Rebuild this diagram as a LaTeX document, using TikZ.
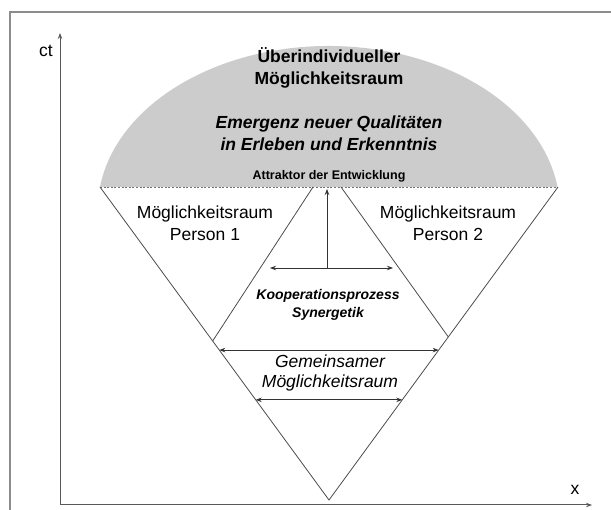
\documentclass[tikz,border=0pt]{standalone}
\usepackage{fontspec}
\setmainfont{Liberation Sans}
\usetikzlibrary{arrows.meta, calc}
\tikzstyle{label} = [inner sep=0pt, align=center, font=\fontsize{17.5}{21.5}\selectfont]
\tikzstyle{dome} = [label, font=\fontsize{17.5}{22}\selectfont\bfseries]
\tikzstyle{domeit} = [label, font=\fontsize{17.5}{22}\selectfont\bfseries\itshape]
\tikzstyle{small} = [label, font=\fontsize{12.5}{15}\selectfont\bfseries]
\tikzstyle{koop} = [label, font=\fontsize{14}{18}\selectfont\bfseries\itshape]
\tikzstyle{line} = [draw=black!70, line width=0.8pt]
\tikzstyle{arrow} = [black!80, line width=0.8pt, <->, >={Stealth[length=6pt,width=4.5pt]}]
\tikzstyle{axis} = [black!65, line width=1pt, ->, >={Stealth[length=6pt,width=4.5pt]}]

\begin{document}
\begin{tikzpicture}[x=1pt, y=-1pt]
        \useasboundingbox (0,0) rectangle (611,510);
        % frame
        \draw [black!45, line width=1.4pt] (611,12) -- (10,12) -- (10,510);

        \coordinate (dL) at (100,187);
        \coordinate (dR) at (558,187);
        \coordinate (apex) at (329,500);
        \coordinate (iL) at (313,187);
        \coordinate (iR) at (341,187);
        \coordinate (iBL) at ($(dL)!0.492!(apex)$);
        \coordinate (iBR) at ($(dR)!0.479!(apex)$);

        % dome
        \fill [black!20] (dL) arc [start angle=172, end angle=8, x radius=231pt, y radius=163.8pt] -- cycle;
        \draw [black!55, line width=0.9pt, dash pattern=on 2pt off 1.6pt] (dL) -- (dR);

        % triangles
        \draw [line] (dL) -- (apex) -- (dR);
        \draw [line] (iL) -- (iBL);
        \draw [line] (iR) -- (iBR);

        % axes
        \coordinate (origin) at (60,505);
        \coordinate (ytip) at (60,33);
        \coordinate (xtip) at (592,505);
        \draw [axis] (origin) -- (ytip);
        \draw [axis] (origin) -- (xtip);
        \node (ct) [label] at (46,51) {ct};
        \node (xlab) [label] at (575,490) {x};

        % texts
        \node (raum) [dome] at (329,68) {Überindividueller\\Möglichkeitsraum};
        \node (emerg) [domeit] at (329,133) {Emergenz neuer Qualitäten\\in Erleben und Erkenntnis};
        \node (attr) [small] at (329,176) {Attraktor der Entwicklung};
        \node (p1) [label] at (205,223) {Möglichkeitsraum\\Person 1};
        \node (p2) [label] at (448,223) {Möglichkeitsraum\\Person 2};
        \node (koop) [koop] at (328,305) {Kooperationsprozess\\Synergetik};
        \node (gem) [label, font=\fontsize{17.5}{20.5}\selectfont\itshape] at (330,373) {Gemeinsamer\\Möglichkeitsraum};

        % arrows
        \coordinate (hL) at (270,268);
        \coordinate (hR) at (393,268);
        \coordinate (hM) at (327,268);
        \coordinate (vT) at (327,189);
        \draw [arrow, <-] (vT) -- (hM);
        \draw [arrow] (hL) -- (hR);
        \coordinate (g1L) at ($(dL)!0.521!(apex)$);
        \coordinate (g1R) at ($(dR)!0.521!(apex)$);
        \coordinate (g2L) at ($(dL)!0.68!(apex)$);
        \coordinate (g2R) at ($(dR)!0.68!(apex)$);
        \draw [arrow] (g1L) -- (g1R);
        \draw [arrow] (g2L) -- (g2R);

      \end{tikzpicture}
\end{document}
